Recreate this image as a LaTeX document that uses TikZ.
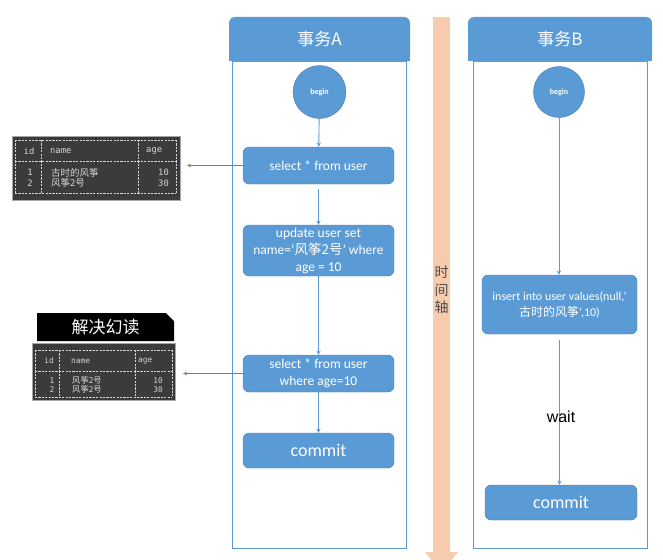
\documentclass[tikz,border=0pt]{standalone}
\usepackage{fontspec}
\setmainfont{Carlito}
\newfontfamily\cjk{Noto Sans CJK SC}
\newfontfamily\mono{DejaVu Sans Mono}
\newfontfamily\plain{Liberation Sans}
\usetikzlibrary{shapes.geometric, shapes.misc, arrows, positioning}

\definecolor{laneblue}{HTML}{5B9BD5}
\definecolor{edgeblue}{HTML}{4A7EBB}
\definecolor{peach}{HTML}{F8CBAD}
\definecolor{linkgreen}{HTML}{5E9A3A}
\definecolor{termbg}{HTML}{3B3B3B}
\definecolor{termfg}{HTML}{D6D6D6}
\newcommand{\fsize}[2]{\fontsize{#1}{#2}\selectfont}

\begin{document}
\begin{tikzpicture}[x=1pt, y=-1pt, >=stealth,
  sql/.style={rectangle, draw=edgeblue, fill=laneblue, rounded corners=6pt, text=white, align=center, inner sep=2pt, minimum width=151pt},
  opener/.style={circle, draw=edgeblue, fill=laneblue, text=white, minimum size=53pt, inner sep=0pt, font=\bfseries\fsize{8}{9}},
  flow/.style={->, draw=laneblue, line width=0.9pt},
  lane/.style={draw=laneblue, line width=0.9pt},
  lanehead/.style={fill=laneblue, rounded corners=6pt, minimum width=181pt, minimum height=44pt, text=white, font=\cjk\fsize{17}{20}},
  peek/.style={->, draw=linkgreen, line width=0.7pt},
  term/.style={rectangle, fill=termbg, draw=gray!70, line width=0.4pt},
  ascii/.style={termfg, line width=0.5pt, dash pattern=on 2.2pt off 1.2pt},
  tcell/.style={inner sep=0pt, text=termfg, font=\mono\fsize{8.8}{10}}]
  \useasboundingbox (0,0) rectangle (663,559);
  \clip (0,0) rectangle (663,559);

  % time axis
  \fill[peach] (433,17) rectangle (450,552);
  \fill[peach] (425,552) -- (458,552) -- (441.5,572) -- cycle;
  \node[font=\cjk\fsize{14}{17.5}, text=black!70, align=center] (axis) at (441.5,290) {时\\间\\轴};

  % lane A
  \fill[laneblue] (229,50) rectangle (410,61);
  \node[lanehead] (headA) at (319.5,39) {事务A};
  \draw[lane] (232,61) rectangle (406,548);
  \node[opener] (begA) at (319.5,92) {begin};
  \node[sql, minimum height=37, font=\fsize{13.5}{16.5}] (sel1) at (318.5,165.5) {select * from user};
  \node[sql, minimum height=51, font=\fsize{13.5}{17}] (upd) at (318.5,250.5) {update user set\\name='{\cjk 风筝2号}' where\\age = 10};
  \node[sql, minimum height=37, font=\fsize{13.5}{16.5}] (sel2) at (318.5,373.5) {select * from user\\where age=10};
  \node[sql, minimum height=35, font=\fsize{18}{20}] (cmtA) at (318.5,450.5) {commit};

  \draw[flow] (begA) -- (sel1);
  \draw[flow, shorten <=5pt] (sel1) -- (upd);
  \draw[flow] (upd) -- (sel2);
  \draw[flow] (sel2) -- (cmtA);

  % lane B
  \fill[laneblue] (468,50) rectangle (652,61);
  \node[lanehead, minimum width=184pt] (headB) at (560,39) {事务B};
  \draw[lane] (473,61) rectangle (647,548);
  \node[opener, minimum size=51pt] (begB) at (559,92) {begin};
  \node[sql, minimum width=155, minimum height=59, font=\fsize{12}{16}] (ins) at (559.5,304.5) {insert into user values(null,'\\{\cjk 古时的风筝}',10)};
  \node[sql, minimum width=152, minimum height=35, font=\fsize{18}{20}] (cmtB) at (561,502.5) {commit};

  \draw[flow] (begB) -- (begB |- ins.north);
  \draw[flow, shorten <=6pt] (ins.south) -- (ins.south |- cmtB.north);
  \node[font=\plain\fsize{16}{18}] (wait) at (561,417) {wait};

  % first select result
  \node[term, minimum width=168, minimum height=64] (tblA) at (96,168) {};
  \foreach \y in {140,161,193} \draw[ascii] (15,\y) -- (176,\y);
  \foreach \x in {15,41,138,176} \draw[ascii] (\x,140) -- (\x,193);
  \node[tcell] (tA-id) at (29,151) {id};
  \node[tcell, anchor=west] (tA-name) at (50,151) {name};
  \node[tcell, anchor=west] (tA-age) at (146,151) {age};
  \foreach \n/\y/\who/\age in {1/172.5/古时的风筝/10, 2/183/风筝2号/30} {
    \node[tcell] (tA-\n a) at (30,\y) {\n};
    \node[tcell, anchor=west, font=\cjk\fsize{9.5}{10}] (tA-\n b) at (51,\y) {\who};
    \node[tcell, anchor=east] (tA-\n c) at (169,\y) {\age};
  }

  % second select result
  \node[chamfered rectangle, chamfered rectangle corners=north east, chamfered rectangle xsep=5pt,
        fill=black, minimum width=137, minimum height=28, inner sep=0pt, text=white,
        font=\cjk\fsize{17}{20}] (fix) at (105.5,327) {解决幻读};
  \node[term, minimum width=143, minimum height=57] (tblB) at (103.5,371.5) {};
  \foreach \y in {350,371,397} \draw[ascii] (35,\y) -- (172,\y);
  \foreach \x in {35,59,135,172} \draw[ascii] (\x,350) -- (\x,397);
  \node[tcell, font=\mono\fsize{7.8}{9}] (tB-id) at (49,361) {id};
  \node[tcell, anchor=west, font=\mono\fsize{7.8}{9}] (tB-name) at (71,361) {name};
  \node[tcell, anchor=west, font=\mono\fsize{7.8}{9}] (tB-age) at (138,361) {age};
  \foreach \n/\y/\age in {1/380.5/10, 2/389.5/30} {
    \node[tcell, font=\mono\fsize{7.8}{9}] (tB-\n a) at (52,\y) {\n};
    \node[tcell, anchor=west, font=\cjk\fsize{8.3}{9}] (tB-\n b) at (72,\y) {风筝2号};
    \node[tcell, anchor=east, font=\mono\fsize{7.8}{9}] (tB-\n c) at (163,\y) {\age};
  }

  \draw[peek, shorten >=7pt] (sel1.west) -- (sel1.west -| tblA.east);
  \draw[peek, shorten >=8pt] (sel2.west) -- (sel2.west -| tblB.east);
\end{tikzpicture}
\end{document}
